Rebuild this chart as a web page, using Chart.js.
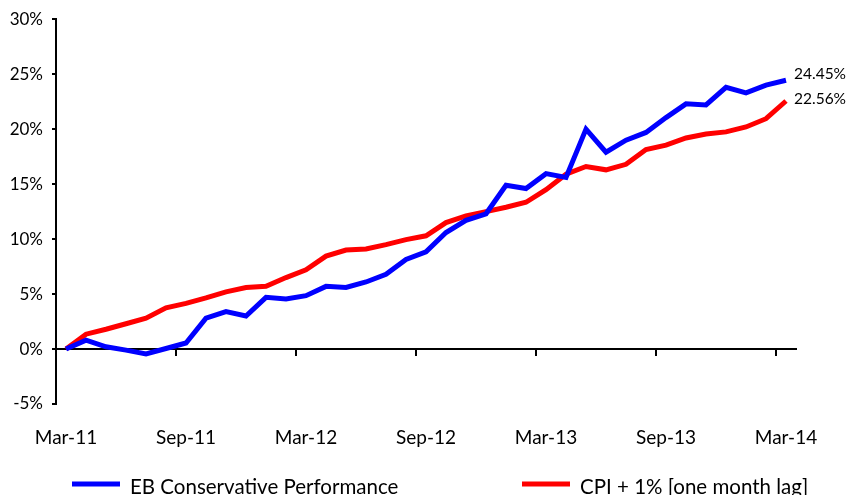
<!DOCTYPE html>
<html>
<head>
<meta charset="utf-8">
<script src="https://cdn.jsdelivr.net/npm/chart.js@4.4.1/dist/chart.umd.min.js"></script>
<style>
  html, body { margin: 0; padding: 0; background: #fff; }
  #wrap { width: 847px; height: 495px; position: relative; }
</style>
</head>
<body>
<div id="wrap"><canvas id="c" width="847" height="495"></canvas></div>
<script>
const months = ['Mar-11','Apr-11','May-11','Jun-11','Jul-11','Aug-11','Sep-11','Oct-11','Nov-11','Dec-11',
  'Jan-12','Feb-12','Mar-12','Apr-12','May-12','Jun-12','Jul-12','Aug-12','Sep-12','Oct-12','Nov-12','Dec-12',
  'Jan-13','Feb-13','Mar-13','Apr-13','May-13','Jun-13','Jul-13','Aug-13','Sep-13','Oct-13','Nov-13','Dec-13',
  'Jan-14','Feb-14','Mar-14'];
const seriesNames = ['EB Conservative Performance', 'CPI + 1% [one month lag]'];
const ebConservative = [0, 0.8, 0.2, -0.1, -0.45, 0.05, 0.55, 2.8, 3.4, 3.0, 4.7, 4.55, 4.85, 5.7, 5.6, 6.1, 6.8, 8.15, 8.85,
  10.6, 11.7, 12.3, 14.9, 14.6, 15.95, 15.6, 20.0, 17.9, 19.0, 19.7, 21.05, 22.3, 22.2, 23.8, 23.3, 24.0, 24.45];
const cpiPlus1 = [0, 1.35, 1.8, 2.3, 2.8, 3.75, 4.15, 4.65, 5.2, 5.6, 5.7, 6.5, 7.2, 8.45, 9.0, 9.1, 9.5, 9.95, 10.3,
  11.5, 12.1, 12.5, 12.9, 13.35, 14.5, 15.9, 16.6, 16.3, 16.8, 18.15, 18.55, 19.2, 19.55, 19.75, 20.2, 20.95, 22.56];
const yTicks = [-5, 0, 5, 10, 15, 20, 25, 30];
const labelEvery = 6;

Chart.defaults.font.family = 'Lato';
Chart.defaults.color = '#000';

const endLabels = {
  id: 'endLabels',
  afterDatasetsDraw(chart) {
    const ctx = chart.ctx;
    const dy = [-6, -2];
    chart.data.datasets.forEach((ds, i) => {
      const meta = chart.getDatasetMeta(i);
      const pt = meta.data[meta.data.length - 1];
      const v = ds.data[ds.data.length - 1];
      ctx.save();
      ctx.font = '15.5px Lato';
      ctx.fillStyle = '#000';
      ctx.textAlign = 'left';
      ctx.textBaseline = 'middle';
      ctx.fillText(v.toFixed(2) + '%', pt.x + 8, pt.y + dy[i]);
      ctx.restore();
    });
  }
};

const bottomLegend = {
  id: 'bottomLegend',
  afterDraw(chart) {
    const ctx = chart.ctx;
    const starts = [72, 522];
    const y = 487;
    chart.data.datasets.forEach((ds, i) => {
      ctx.save();
      ctx.strokeStyle = ds.borderColor;
      ctx.lineWidth = 5;
      ctx.beginPath();
      ctx.moveTo(starts[i], y - 3);
      ctx.lineTo(starts[i] + 48, y - 3);
      ctx.stroke();
      ctx.font = '20.5px Lato';
      ctx.fillStyle = '#000';
      ctx.textAlign = 'left';
      ctx.textBaseline = 'middle';
      ctx.fillText(ds.label, starts[i] + 58, y);
      ctx.restore();
    });
  }
};

new Chart(document.getElementById('c'), {
  type: 'line',
  data: {
    labels: months,
    datasets: [
      { label: seriesNames[0], data: ebConservative, borderColor: '#0000FF', backgroundColor: '#0000FF',
        borderWidth: 5, pointRadius: 0, tension: 0, xAxisID: 'x', yAxisID: 'y' },
      { label: seriesNames[1], data: cpiPlus1, borderColor: '#FF0000', backgroundColor: '#FF0000',
        borderWidth: 5, pointRadius: 0, tension: 0, xAxisID: 'x', yAxisID: 'y' }
    ]
  },
  options: {
    responsive: false,
    animation: false,
    layout: { padding: { left: 0, right: 51, top: 19, bottom: 0 } },
    plugins: { legend: { display: false }, tooltip: { enabled: false } },
    scales: {
      x: {
        type: 'category',
        position: 'bottom',
        offset: true,
        grid: { display: false, drawTicks: false },
        border: { display: false },
        ticks: {
          autoSkip: false, maxRotation: 0, minRotation: 0, padding: 22,
          font: { size: 19 },
          callback: function (v, i) { return i % labelEvery === 0 ? this.getLabelForValue(v) : ''; }
        },
        afterFit(scale) { scale.height = 91; }
      },
      x0: {
        type: 'category',
        position: { y: 0 },
        offset: true,
        grid: {
          offset: true, drawOnChartArea: false, drawTicks: true, tickLength: 6, lineWidth: 2,
          color: (c) => (c.index !== undefined && c.index > 0 && c.index % labelEvery === 0) ? '#000' : 'rgba(0,0,0,0)'
        },
        border: { display: true, color: '#000', width: 2 },
        ticks: { display: false, autoSkip: false }
      },
      y: {
        type: 'linear',
        position: 'left',
        min: yTicks[0], max: yTicks[yTicks.length - 1],
        afterBuildTicks(scale) { scale.ticks = yTicks.map(v => ({ value: v })); },
        grid: { drawOnChartArea: false, drawTicks: true, tickLength: 4, color: '#000', lineWidth: 2 },
        border: { display: true, color: '#000', width: 2 },
        ticks: { padding: 9, font: { size: 17 }, callback: (v) => v + '%' },
        afterFit(scale) { scale.width = 56; }
      }
    }
  },
  plugins: [endLabels, bottomLegend]
});
</script>
</body>
</html>
